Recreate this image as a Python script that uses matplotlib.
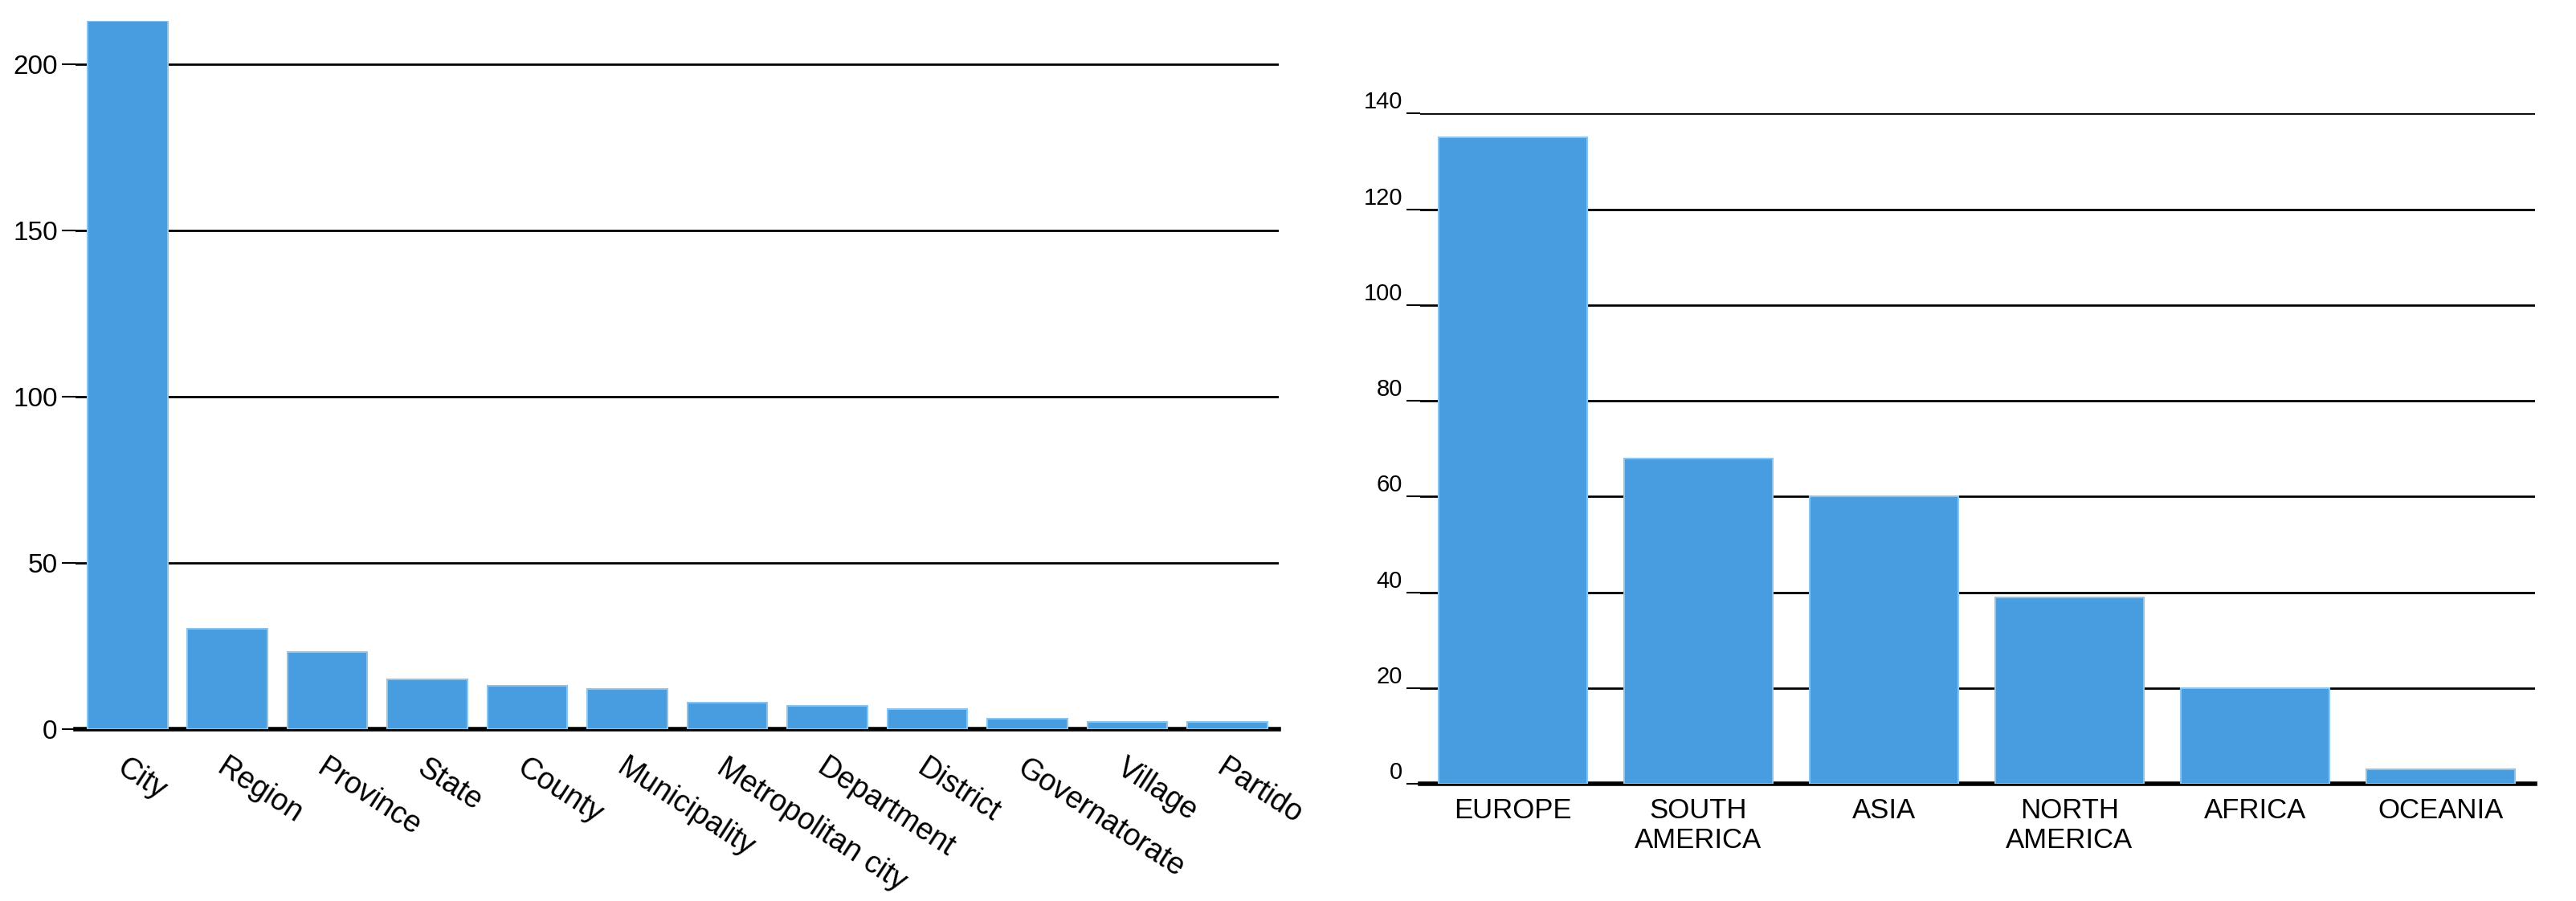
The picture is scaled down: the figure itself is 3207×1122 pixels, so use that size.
import matplotlib.pyplot as plt
import numpy as np

plt.rcParams['font.family'] = ['Liberation Sans', 'DejaVu Sans']

types = ['City', 'Region', 'Province', 'State', 'County', 'Municipality',
         'Metropolitan city', 'Department', 'District', 'Governatorate',
         'Village', 'Partido']
type_counts = [213, 30, 23, 15, 13, 12, 8, 7, 6, 3, 2, 2]

continents = ['EUROPE', 'SOUTH\nAMERICA', 'ASIA', 'NORTH\nAMERICA', 'AFRICA', 'OCEANIA']
continent_counts = [135, 68, 60, 39, 20, 3]

blue = '#479ddf'

fig = plt.figure(figsize=(32.07, 11.22), dpi=100)


def style(ax, ticks, fs):
    ax.set_yticks(ticks)
    ax.yaxis.grid(True, color='black', lw=2)
    ax.set_axisbelow(True)
    for s in ['top', 'right', 'left']:
        ax.spines[s].set_visible(False)
    ax.spines['bottom'].set_linewidth(4)
    ax.tick_params(axis='y', length=12, width=1.5, labelsize=fs, pad=4)
    ax.tick_params(axis='x', length=0)


ax1 = fig.add_axes([0.0293, 0.191, 0.467, 0.786])
x1 = np.arange(len(types))
ax1.bar(x1, type_counts, width=0.8, color=blue, edgecolor='#8cc4ee', lw=1.5, zorder=3)
ax1.set_xlim(-0.52, 11.51)
ax1.set_ylim(0, 213)
style(ax1, [0, 50, 100, 150, 200], 24)
ax1.set_xticks(x1)
ax1.set_xticklabels(types, rotation=-33, ha='left', rotation_mode='anchor', fontsize=27)
for lab in ax1.get_xticklabels():
    lab.set_x(lab.get_position()[0])
ax1.tick_params(axis='x', pad=22)

ax2 = fig.add_axes([0.5513, 0.130, 0.4328, 0.744])
x2 = np.arange(len(continents))
ax2.bar(x2, continent_counts, width=0.8, color=blue, edgecolor='#8cc4ee', lw=1.5, zorder=3)
ax2.set_xlim(-0.5, 5.51)
ax2.set_ylim(0, 140)
style(ax2, [0, 20, 40, 60, 80, 100, 120, 140], 21)
ax2.set_xticks(x2)
ax2.set_xticklabels(continents, fontsize=25, linespacing=1.15)
ax2.tick_params(axis='x', pad=12)
for lab in ax2.get_yticklabels():
    lab.set_verticalalignment('bottom')

fig.savefig('out.png', dpi=100)
